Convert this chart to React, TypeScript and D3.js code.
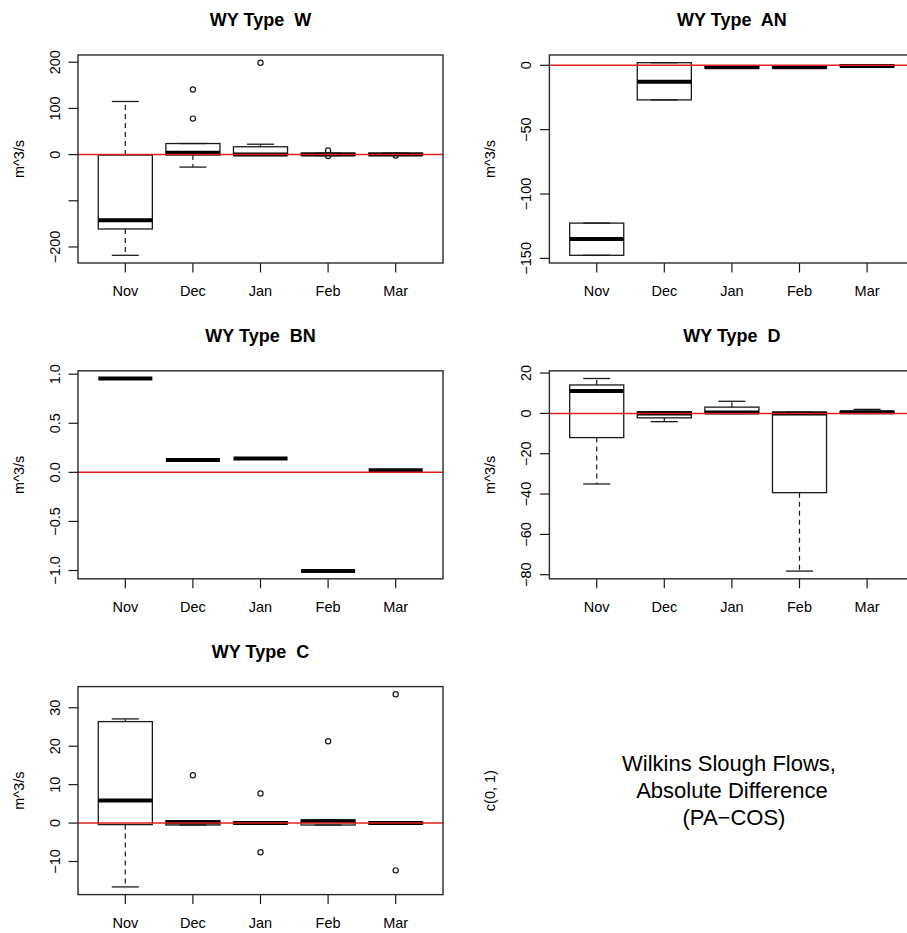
import React from "react";
import * as d3 from "d3";

const MONTHS = ["Nov", "Dec", "Jan", "Feb", "Mar"];

// [lower whisker, Q1, median, Q3, upper whisker]
const W_STATS = [
  [-218, -161, -142, -1, 115],
  [-27, -1, 4, 24, 24],
  [-1, -1, 0, 17, 22.5],
  [-2, -1.5, 0, 3, 3],
  [-1, -1, 0, 3, 3],
];
const W_OUT = [[], [141, 78], [199], [9, -3], [-2]];
const W_TICKS = [-200, -100, 0, 100, 200];
const W_LABELS = ["\u2212200", "", "0", "100", "200"];

const AN_STATS = [
  [-147.6, -147.6, -135, -122.6, -122.6],
  [-26.9, -26.9, -12.7, 2, 2],
  [-2.2, -2.2, -1.6, -0.3, -0.3],
  [-2, -2, -1.5, -0.3, -0.3],
  [-1, -1, -0.5, 0.5, 0.5],
];
const AN_OUT = [[], [], [], [], []];
const AN_TICKS = [-150, -100, -50, 0];
const AN_LABELS = ["\u2212150", "\u2212100", "\u221250", "0"];

const BN_STATS = [
  [0.956, 0.956, 0.956, 0.956, 0.956],
  [0.125, 0.125, 0.125, 0.125, 0.125],
  [0.142, 0.142, 0.142, 0.142, 0.142],
  [-1.006, -1.006, -1.006, -1.006, -1.006],
  [0.022, 0.022, 0.022, 0.022, 0.022],
];
const BN_OUT = [[], [], [], [], []];
const BN_TICKS = [-1, -0.5, 0, 0.5, 1];
const BN_LABELS = ["\u22121.0", "\u22120.5", "0.0", "0.5", "1.0"];

const D_STATS = [
  [-35, -12, 11.1, 14.1, 17.3],
  [-4.1, -2.2, 0, 0.8, 0.8],
  [0, 0, 0.5, 3.1, 6],
  [-78.2, -39.3, 0, 0.6, 0.6],
  [0, 0, 0.6, 1, 2],
];
const D_OUT = [[], [], [], [], []];
const D_TICKS = [-80, -60, -40, -20, 0, 20];
const D_LABELS = ["\u221280", "\u221260", "\u221240", "\u221220", "0", "20"];

const C_STATS = [
  [-16.6, -0.4, 5.9, 26.4, 27.1],
  [-0.5, -0.5, 0.2, 0.6, 0.6],
  [-0.2, -0.2, 0, 0.3, 0.3],
  [-0.5, -0.5, 0.5, 0.8, 0.8],
  [-0.2, -0.2, 0, 0.2, 0.2],
];
const C_OUT = [[], [12.45], [7.7, -7.6], [21.3], [33.5, -12.3]];
const C_TICKS = [-10, 0, 10, 20, 30];
const C_LABELS = ["\u221210", "0", "10", "20", "30"];

const TITLES = ["WY Type  W", "WY Type  AN", "WY Type  BN", "WY Type  D", "WY Type  C"];
const NOTE_LINES = ["Wilkins Slough Flows,", "Absolute Difference", "(PA\u2212COS)"];

const FONT = "'Liberation Sans', Arial, Helvetica, sans-serif";
const PW = 365;
const PH = 208;
const COL_LEFT = [78, 549.4];
const ROW_TOP = [55, 370.8, 686.6];
const INK = "#1a1a1a";

type PanelProps = {
  title: string;
  stats: number[][];
  outs: number[][];
  ticks: number[];
  labels: string[];
  left: number;
  top: number;
};

function Panel({ title, stats, outs, ticks, labels, left, top }: PanelProps) {
  const all = stats.flat().concat(outs.flat());
  const lo = d3.min(all) as number;
  const hi = d3.max(all) as number;
  const pad = (hi - lo) * 0.04;
  const y = d3.scaleLinear().domain([lo - pad, hi + pad]).range([top + PH, top]);
  const x = d3.scaleLinear().domain([0.3, 5.7]).range([left, left + PW]);
  const bw = x(1.4) - x(0.6);
  const bottom = top + PH;
  return (
    <g>
      <text x={left + PW / 2} y={top - 29} textAnchor="middle" fontWeight="bold" fontSize={18} fontFamily={FONT} fill="#000" style={{ whiteSpace: "pre" }}>
        {title}
      </text>
      <text transform={`translate(${left - 54.5},${top + PH / 2}) rotate(-90)`} textAnchor="middle" fontSize={14.5} fontFamily={FONT} fill="#000">
        m^3/s
      </text>
      {ticks.map((t, i) => (
        <g key={"yt" + i}>
          <line x1={left} x2={left - 9.5} y1={y(t)} y2={y(t)} stroke={INK} strokeWidth={1.2} />
          {labels[i] && (
            <text transform={`translate(${left - 18},${y(t)}) rotate(-90)`} textAnchor="middle" fontSize={14.5} fontFamily={FONT} fill="#000">
              {labels[i]}
            </text>
          )}
        </g>
      ))}
      {MONTHS.map((m, i) => (
        <g key={"xt" + i}>
          <line x1={x(i + 1)} x2={x(i + 1)} y1={bottom} y2={bottom + 9.5} stroke={INK} strokeWidth={1.2} />
          <text x={x(i + 1)} y={bottom + 33} textAnchor="middle" fontSize={14.5} fontFamily={FONT} fill="#000">
            {m}
          </text>
        </g>
      ))}
      {stats.map((s, i) => {
        const cx = x(i + 1);
        const [wl, q1, md, q3, wh] = s;
        return (
          <g key={"b" + i}>
            {wh > q3 && <line x1={cx} x2={cx} y1={y(q3)} y2={y(wh)} stroke={INK} strokeWidth={1.2} strokeDasharray="5,4" />}
            {wl < q1 && <line x1={cx} x2={cx} y1={y(q1)} y2={y(wl)} stroke={INK} strokeWidth={1.2} strokeDasharray="5,4" />}
            <line x1={cx - bw / 4} x2={cx + bw / 4} y1={y(wh)} y2={y(wh)} stroke={INK} strokeWidth={1.3} />
            <line x1={cx - bw / 4} x2={cx + bw / 4} y1={y(wl)} y2={y(wl)} stroke={INK} strokeWidth={1.3} />
            <rect x={cx - bw / 2} y={y(q3)} width={bw} height={Math.max(0, y(q1) - y(q3))} fill="none" stroke={INK} strokeWidth={1.3} />
            <line x1={cx - bw / 2} x2={cx + bw / 2} y1={y(md)} y2={y(md)} stroke="#000" strokeWidth={4} />
            {outs[i].map((o, j) => (
              <circle key={j} cx={cx} cy={y(o)} r={2.6} fill="none" stroke={INK} strokeWidth={1.2} />
            ))}
          </g>
        );
      })}
      <line x1={left} x2={left + PW} y1={y(0)} y2={y(0)} stroke="#e0201c" strokeWidth={1.5} />
      <rect x={left} y={top} width={PW} height={PH} fill="none" stroke="#2a2a2a" strokeWidth={1.4} />
    </g>
  );
}

export default function App() {
  const panels = [
    { stats: W_STATS, outs: W_OUT, ticks: W_TICKS, labels: W_LABELS },
    { stats: AN_STATS, outs: AN_OUT, ticks: AN_TICKS, labels: AN_LABELS },
    { stats: BN_STATS, outs: BN_OUT, ticks: BN_TICKS, labels: BN_LABELS },
    { stats: D_STATS, outs: D_OUT, ticks: D_TICKS, labels: D_LABELS },
    { stats: C_STATS, outs: C_OUT, ticks: C_TICKS, labels: C_LABELS },
  ];
  const noteX = [729, 732, 734];
  const noteLeft = COL_LEFT[1];
  const noteTop = ROW_TOP[2];
  return (
    <svg width={907} height={933} style={{ position: "absolute", left: 0, top: 0, background: "#fff" }}>
      <rect x={0} y={0} width={907} height={933} fill="#fff" />
      {panels.map((p, i) => (
        <Panel key={i} title={TITLES[i]} {...p} left={COL_LEFT[i % 2]} top={ROW_TOP[Math.floor(i / 2)]} />
      ))}
      <text transform={`translate(${noteLeft - 54.5},${noteTop + PH / 2}) rotate(-90)`} textAnchor="middle" fontSize={14.5} fontFamily={FONT} fill="#000">
        c(0, 1)
      </text>
      {NOTE_LINES.map((l, i) => (
        <text key={i} x={noteX[i]} y={noteTop + 84.5 + i * 27} textAnchor="middle" fontSize={22} fontFamily={FONT} fill="#000">
          {l}
        </text>
      ))}
    </svg>
  );
}
